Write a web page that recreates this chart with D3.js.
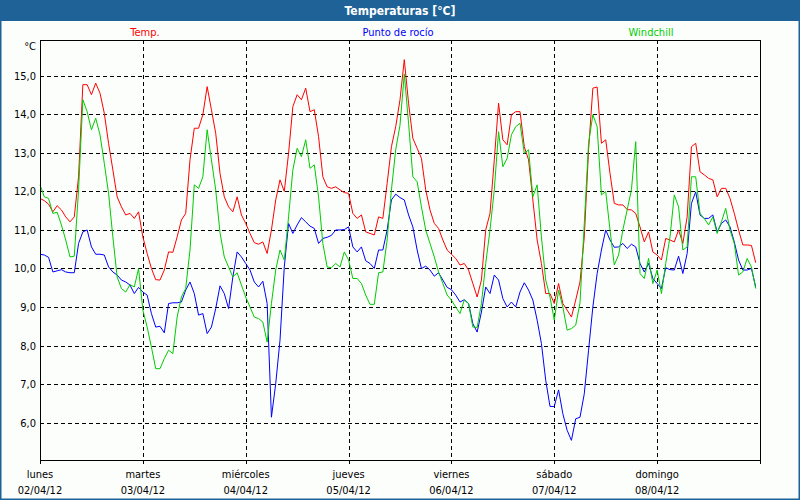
<!DOCTYPE html>
<html>
<head>
<meta charset="utf-8">
<script src="https://cdn.jsdelivr.net/npm/d3@7"></script>
<style>
  body { margin: 0; background: #fff; }
  svg text { font-family: Tahoma, "DejaVu Sans Condensed", "DejaVu Sans", sans-serif; font-size: 11px; }
</style>
</head>
<body>
<svg id="chart" width="800" height="500"></svg>
<script>
// hourly readings, lunes 02/04/12 00:00 -> domingo 08/04/12 23:00
var days = ["lunes", "martes", "miércoles", "jueves", "viernes", "sábado", "domingo"];
var dates = ["02/04/12", "03/04/12", "04/04/12", "05/04/12", "06/04/12", "07/04/12", "08/04/12"];
var yTicks = [6, 7, 8, 9, 10, 11, 12, 13, 14, 15];

var temp = [
  11.82, 11.76, 11.67, 11.47, 11.63, 11.52, 11.34, 11.21, 11.34, 12.38, 14.77, 14.77,
  14.51, 14.81, 14.55, 14.03, 13.25, 12.56, 11.86, 11.60, 11.39, 11.43, 11.30, 11.47,
  10.82, 10.39, 10.00, 9.71, 9.70, 9.96, 10.43, 10.42, 10.82, 11.26, 11.43, 12.82,
  13.64, 13.64, 13.99, 14.72, 14.12, 13.51, 12.47, 11.86, 11.60, 11.47, 11.86, 11.39,
  11.17, 10.91, 10.67, 10.63, 10.69, 10.39, 11.00, 11.78, 12.30, 12.00, 12.99, 14.20,
  14.51, 14.38, 14.68, 14.07, 14.12, 13.42, 12.38, 12.12, 12.08, 12.12, 12.04, 11.97,
  11.95, 11.43, 11.30, 11.39, 10.95, 10.91, 10.87, 11.34, 11.30, 12.21, 13.16, 13.68,
  14.38, 15.42, 14.29, 13.38, 13.12, 12.86, 12.04, 11.52, 11.17, 11.04, 10.74, 10.48,
  10.37, 10.26, 10.09, 10.13, 9.96, 9.61, 9.26, 9.70, 11.00, 11.43, 12.82, 14.29,
  13.34, 13.21, 13.99, 14.07, 14.07, 13.16, 12.82, 11.78, 10.74, 10.13, 9.35, 9.35,
  9.09, 9.61, 9.09, 8.92, 8.74, 9.18, 9.65, 10.82, 13.08, 14.68, 14.71, 13.25,
  13.34, 12.47, 11.69, 11.65, 11.65, 11.53, 11.52, 11.43, 11.08, 10.69, 10.95, 10.43,
  10.35, 10.22, 10.78, 10.74, 10.69, 11.00, 10.65, 11.34, 13.16, 13.25, 12.51, 12.43,
  12.34, 12.30, 11.86, 12.08, 12.08, 11.82, 11.43, 11.00, 10.61, 10.61, 10.60, 10.15
];

var dewPoint = [
  10.37, 10.35, 10.29, 9.91, 9.94, 9.97, 9.91, 9.89, 9.89, 10.65, 10.95, 11.00,
  10.56, 10.37, 10.37, 10.35, 10.04, 9.91, 9.83, 9.70, 9.65, 9.57, 9.35, 9.51,
  9.39, 9.31, 8.83, 8.48, 8.50, 8.33, 9.09, 9.11, 9.11, 9.13, 9.44, 9.65,
  9.35, 8.79, 8.83, 8.31, 8.48, 8.96, 9.55, 9.35, 8.96, 9.78, 10.43, 10.30,
  10.13, 9.96, 9.65, 9.52, 9.67, 9.09, 6.14, 7.01, 8.14, 10.04, 11.17, 10.91,
  11.13, 11.32, 11.21, 11.10, 11.04, 10.65, 10.78, 10.81, 10.86, 11.00, 11.00, 11.01,
  11.08, 10.56, 10.43, 10.56, 10.20, 10.13, 10.00, 10.48, 10.48, 11.00, 11.78, 11.93,
  11.84, 11.78, 11.39, 11.08, 10.48, 10.00, 10.06, 9.96, 9.80, 9.89, 9.70, 9.51,
  9.45, 9.31, 9.13, 9.19, 9.09, 8.57, 8.35, 8.87, 9.52, 9.35, 9.83, 9.70,
  9.22, 9.00, 9.13, 9.00, 9.39, 9.63, 9.44, 9.18, 8.66, 8.05, 7.10, 6.42,
  6.42, 6.85, 6.23, 5.80, 5.54, 6.10, 6.14, 6.75, 7.88, 9.00, 9.87, 10.48,
  11.00, 10.74, 10.55, 10.56, 10.65, 10.52, 10.63, 10.56, 10.13, 9.91, 10.13, 9.74,
  9.61, 9.48, 10.02, 9.97, 9.96, 10.32, 9.87, 10.39, 11.69, 11.99, 11.39, 11.30,
  11.30, 11.39, 10.95, 11.17, 11.26, 11.08, 10.69, 10.22, 9.96, 9.96, 10.00, 9.52
];

var windchill = [
  12.17, 11.86, 11.82, 11.43, 11.46, 11.13, 10.74, 10.30, 10.32, 12.04, 14.38, 14.07,
  13.60, 13.90, 13.47, 12.73, 11.95, 10.82, 9.78, 9.48, 9.39, 9.58, 9.52, 10.00,
  8.92, 8.48, 7.96, 7.40, 7.40, 7.66, 7.88, 7.79, 8.74, 9.26, 9.48, 10.48,
  12.17, 12.08, 12.38, 13.60, 12.82, 12.04, 10.93, 10.30, 10.04, 9.78, 9.89, 9.57,
  9.26, 9.00, 8.74, 8.70, 8.61, 8.09, 9.09, 9.96, 10.48, 10.22, 11.34, 12.56,
  13.12, 12.90, 13.34, 12.60, 12.69, 11.86, 10.65, 10.04, 10.02, 10.13, 10.04, 10.43,
  10.22, 9.74, 9.74, 9.61, 9.31, 9.07, 9.07, 9.89, 9.91, 10.74, 12.04, 13.08,
  13.72, 15.05, 13.77, 12.38, 12.25, 11.60, 11.00, 10.65, 10.30, 9.91, 9.61, 9.31,
  9.18, 9.00, 8.83, 9.18, 9.09, 8.48, 8.47, 9.09, 10.13, 11.00, 12.04, 13.55,
  12.64, 12.86, 13.47, 13.68, 13.77, 12.99, 13.08, 11.86, 12.17, 10.82, 9.70, 9.26,
  8.66, 9.44, 9.00, 8.40, 8.44, 8.53, 9.11, 11.17, 13.25, 13.99, 13.68, 11.91,
  12.00, 11.00, 10.09, 10.35, 11.00, 11.52, 12.04, 13.29, 9.87, 9.74, 10.26, 9.61,
  9.96, 9.35, 10.13, 10.82, 11.91, 11.60, 10.48, 10.56, 12.38, 12.38, 11.43, 11.30,
  11.13, 11.34, 10.91, 11.21, 11.56, 11.00, 10.65, 9.83, 9.91, 10.26, 10.04, 9.48
];

var series = [
  { name: "Temp.", values: temp, color: "#ff0000", lx: 145 },
  { name: "Punto de rocío", values: dewPoint, color: "#0000ff", lx: 398 },
  { name: "Windchill", values: windchill, color: "#00cc00", lx: 651 }
];

const svg = d3.select("#chart"),
  width = +svg.attr("width"),
  height = +svg.attr("height");

const plot = { left: 40, right: 760, top: 40, bottom: 460 };
const blue = "#1e6298";

// frame + title bar
svg.append("rect")
  .attr("x", 0.5).attr("y", 0.5)
  .attr("width", width - 1).attr("height", height - 1)
  .attr("fill", "#fcfefc")
  .attr("stroke", blue).attr("stroke-width", 2);

svg.append("rect")
  .attr("x", 0).attr("y", 0)
  .attr("width", width).attr("height", 21)
  .attr("fill", blue);

svg.append("text")
  .attr("x", width / 2).attr("y", 15)
  .attr("text-anchor", "middle")
  .attr("fill", "#fff")
  .style("font-weight", "bold")
  .style("font-size", "12px")
  .text("Temperaturas [°C]");

// scales
const x = d3.scaleLinear().domain([0, 24 * 7]).range([plot.left, plot.right]);
const y = d3.scaleLinear().domain([5.03, 15.93]).range([plot.bottom, plot.top]);

// legend
svg.append("g").selectAll("text")
  .data(series)
  .join("text")
  .attr("x", d => d.lx).attr("y", 36)
  .attr("text-anchor", "middle")
  .attr("fill", d => d.color)
  .text(d => d.name);

svg.append("text")
  .attr("x", 36).attr("y", 50)
  .attr("text-anchor", "end")
  .attr("fill", "#000")
  .text("°C");

// grid
const grid = svg.append("g")
  .attr("stroke", "#000")
  .attr("stroke-dasharray", "4,3")
  .attr("shape-rendering", "crispEdges");

grid.selectAll("line.h")
  .data(yTicks)
  .join("line")
  .attr("class", "h")
  .attr("x1", plot.left).attr("x2", plot.right)
  .attr("y1", d => Math.round(y(d)) + 0.5)
  .attr("y2", d => Math.round(y(d)) + 0.5);

grid.selectAll("line.v")
  .data(d3.range(1, 7))
  .join("line")
  .attr("class", "v")
  .attr("y1", plot.top).attr("y2", plot.bottom)
  .attr("x1", d => Math.round(x(d * 24)) + 0.5)
  .attr("x2", d => Math.round(x(d * 24)) + 0.5);

// y labels
svg.append("g").selectAll("text")
  .data(yTicks)
  .join("text")
  .attr("x", 36)
  .attr("y", d => y(d) + 4)
  .attr("text-anchor", "end")
  .attr("fill", "#000")
  .text(d => d.toFixed(1).replace(".", ","));

// x ticks + labels
const xt = svg.append("g");
xt.selectAll("line")
  .data(d3.range(0, 8))
  .join("line")
  .attr("x1", d => Math.round(x(d * 24)) + 0.5)
  .attr("x2", d => Math.round(x(d * 24)) + 0.5)
  .attr("y1", plot.bottom).attr("y2", plot.bottom + 4)
  .attr("stroke", "#000")
  .attr("shape-rendering", "crispEdges");

xt.selectAll("text.day")
  .data(days)
  .join("text")
  .attr("class", "day")
  .attr("x", (d, i) => x(i * 24))
  .attr("y", 478)
  .attr("text-anchor", "middle")
  .attr("fill", "#000")
  .text(d => d);

xt.selectAll("text.date")
  .data(dates)
  .join("text")
  .attr("class", "date")
  .attr("x", (d, i) => x(i * 24))
  .attr("y", 494)
  .attr("text-anchor", "middle")
  .attr("fill", "#000")
  .text(d => d);

// lines
const line = d3.line()
  .x((d, i) => x(i))
  .y(d => y(d));

svg.append("g").selectAll("path")
  .data(series)
  .join("path")
  .attr("d", d => line(d.values))
  .attr("fill", "none")
  .attr("stroke", d => d.color)
  .attr("stroke-width", 1);

// plot box
svg.append("rect")
  .attr("x", plot.left + 0.5).attr("y", plot.top + 0.5)
  .attr("width", plot.right - plot.left)
  .attr("height", plot.bottom - plot.top)
  .attr("fill", "none")
  .attr("stroke", "#000")
  .attr("shape-rendering", "crispEdges");
</script>
</body>
</html>
